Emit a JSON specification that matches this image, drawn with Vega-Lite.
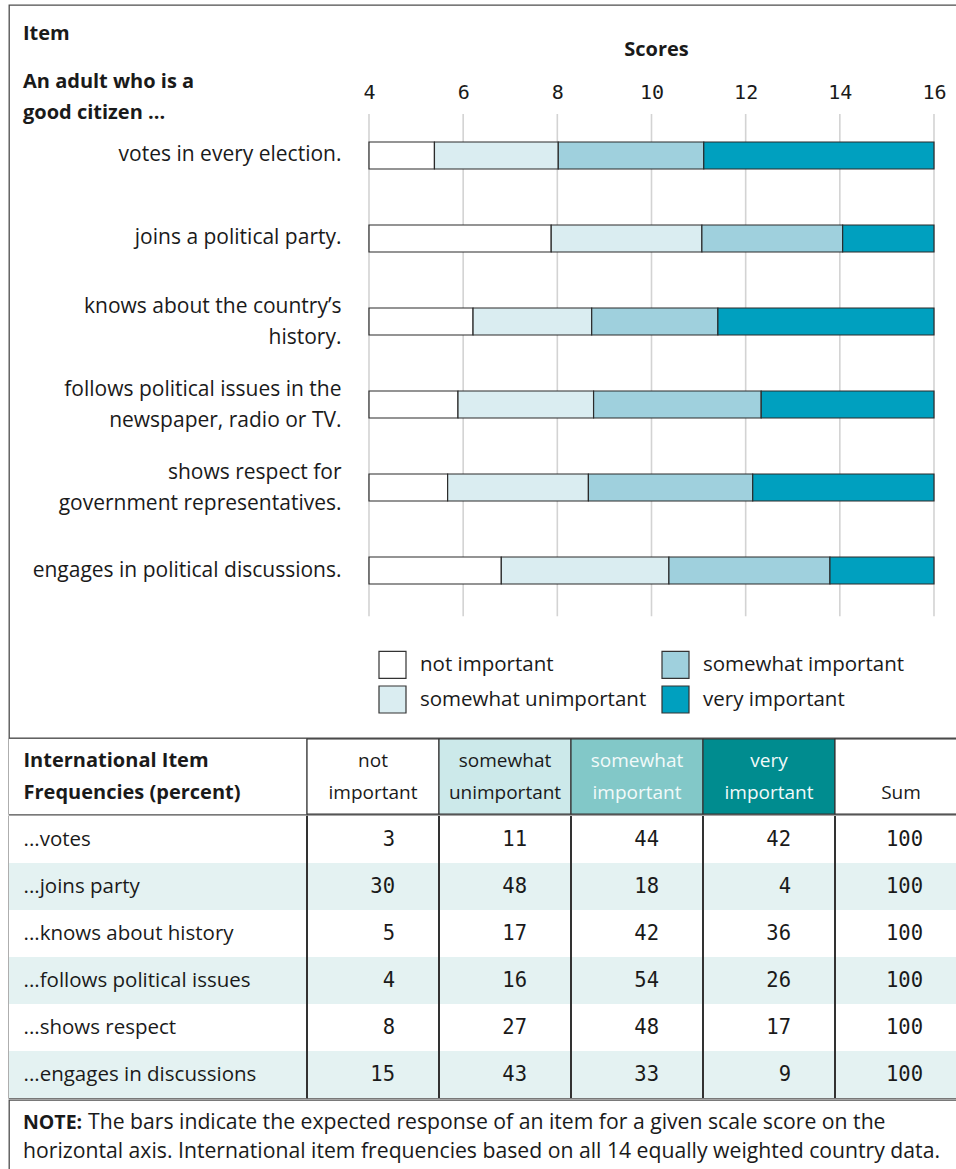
{
  "$schema": "https://vega.github.io/schema/vega-lite/v6.json",
  "padding": {"left": 8, "top": 4, "right": 0, "bottom": 0},
  "background": "white",
  "spacing": -4,
  "config": {
    "view": {"stroke": "#4d4d4d", "strokeWidth": 1.3},
    "font": "Open Sans",
    "concat": {"spacing": 0}
  },
  "resolve": {
    "scale": {"x": "independent", "y": "independent", "fill": "independent", "color": "independent"},
    "axis": {"x": "independent", "y": "independent"},
    "legend": {"fill": "independent", "color": "independent"}
  },
  "datasets": {
    "grid": [{"from": 4}, {"from": 6}, {"from": 8}, {"from": 10}, {"from": 12}, {"from": 14}, {"from": 16}],
    "bars": [
      {"item": "votes in every election.", "cat": "not important", "from": 4, "to": 5.39},
      {"item": "votes in every election.", "cat": "somewhat unimportant", "from": 5.39, "to": 8.02},
      {"item": "votes in every election.", "cat": "somewhat important", "from": 8.02, "to": 11.11},
      {"item": "votes in every election.", "cat": "very important", "from": 11.11, "to": 16},
      {"item": "joins a political party.", "cat": "not important", "from": 4, "to": 7.87},
      {"item": "joins a political party.", "cat": "somewhat unimportant", "from": 7.87, "to": 11.07},
      {"item": "joins a political party.", "cat": "somewhat important", "from": 11.07, "to": 14.06},
      {"item": "joins a political party.", "cat": "very important", "from": 14.06, "to": 16},
      {"item": "knows about the country’s|history.", "cat": "not important", "from": 4, "to": 6.21},
      {"item": "knows about the country’s|history.", "cat": "somewhat unimportant", "from": 6.21, "to": 8.73},
      {"item": "knows about the country’s|history.", "cat": "somewhat important", "from": 8.73, "to": 11.41},
      {"item": "knows about the country’s|history.", "cat": "very important", "from": 11.41, "to": 16},
      {"item": "follows political issues in the|newspaper, radio or TV.", "cat": "not important", "from": 4, "to": 5.89},
      {"item": "follows political issues in the|newspaper, radio or TV.", "cat": "somewhat unimportant", "from": 5.89, "to": 8.77},
      {"item": "follows political issues in the|newspaper, radio or TV.", "cat": "somewhat important", "from": 8.77, "to": 12.33},
      {"item": "follows political issues in the|newspaper, radio or TV.", "cat": "very important", "from": 12.33, "to": 16},
      {"item": "shows respect for|government representatives.", "cat": "not important", "from": 4, "to": 5.67},
      {"item": "shows respect for|government representatives.", "cat": "somewhat unimportant", "from": 5.67, "to": 8.66},
      {"item": "shows respect for|government representatives.", "cat": "somewhat important", "from": 8.66, "to": 12.15},
      {"item": "shows respect for|government representatives.", "cat": "very important", "from": 12.15, "to": 16},
      {"item": "engages in political discussions.", "cat": "not important", "from": 4, "to": 6.81},
      {"item": "engages in political discussions.", "cat": "somewhat unimportant", "from": 6.81, "to": 10.37},
      {"item": "engages in political discussions.", "cat": "somewhat important", "from": 10.37, "to": 13.79},
      {"item": "engages in political discussions.", "cat": "very important", "from": 13.79, "to": 16}
    ],
    "header": [
      {"col": "not_important", "t": "not|important"},
      {"col": "somewhat_unimportant", "t": "somewhat|unimportant"},
      {"col": "somewhat_important", "t": "somewhat|important"},
      {"col": "very_important", "t": "very|important"},
      {"col": "sum", "t": " |Sum"}
    ],
    "table": [
      {"row": 1, "item": "...votes", "not_important": 3, "somewhat_unimportant": 11, "somewhat_important": 44, "very_important": 42, "sum": 100},
      {"row": 2, "item": "...joins party", "not_important": 30, "somewhat_unimportant": 48, "somewhat_important": 18, "very_important": 4, "sum": 100},
      {"row": 3, "item": "...knows about history", "not_important": 5, "somewhat_unimportant": 17, "somewhat_important": 42, "very_important": 36, "sum": 100},
      {"row": 4, "item": "...follows political issues", "not_important": 4, "somewhat_unimportant": 16, "somewhat_important": 54, "very_important": 26, "sum": 100},
      {"row": 5, "item": "...shows respect", "not_important": 8, "somewhat_unimportant": 27, "somewhat_important": 48, "very_important": 17, "sum": 100},
      {"row": 6, "item": "...engages in discussions", "not_important": 15, "somewhat_unimportant": 43, "somewhat_important": 33, "very_important": 9, "sum": 100}
    ]
  },
  "vconcat": [
    {
      "width": 950,
      "height": 733,
      "title": {
        "text": "Item",
        "subtitle": ["An adult who is a", "good citizen ..."],
        "anchor": "start",
        "frame": "group",
        "offset": -118,
        "dx": 14,
        "font": "Open Sans",
        "fontSize": 20,
        "fontWeight": "bold",
        "color": "#1a1a1a",
        "subtitleFont": "Open Sans",
        "subtitleFontSize": 20,
        "subtitleFontWeight": "bold",
        "subtitleColor": "#1a1a1a",
        "subtitleLineHeight": 31,
        "subtitlePadding": 28
      },
      "layer": [
        {
          "data": {"name": "grid"},
          "mark": {"type": "rule", "color": "#d3d3d3", "strokeWidth": 1.6},
          "encoding": {
            "x": {"field": "from", "type": "quantitative", "scale": {"domain": [-3.646, 16.531], "nice": false, "zero": false}},
            "y": {"datum": "votes in every election.", "type": "nominal", "bandPosition": -1.04},
            "y2": {"datum": "engages in political discussions.", "bandPosition": 2.19}
          }
        },
        {
          "data": {"name": "bars"},
          "mark": {"type": "bar", "stroke": "#2b2b2b", "strokeWidth": 1.2},
          "encoding": {
            "x": {
              "field": "from", "type": "quantitative",
              "scale": {"domain": [-3.646, 16.531], "nice": false, "zero": false},
              "axis": {
                "orient": "top", "offset": -109, "values": [4, 6, 8, 10, 12, 14, 16],
                "domain": false, "ticks": false, "grid": false,
                "labelFont": "DejaVu Sans Mono", "labelFontSize": 20, "labelColor": "#1a1a1a",
                "labelPadding": 12, "labelFlush": false, "labelOverlap": false,
                "title": "Scores", "titleFont": "Open Sans", "titleFontSize": 20, "titleFontWeight": "bold",
                "titleColor": "#1a1a1a", "titleX": 647, "titleY": -59, "titleAlign": "center", "titleBaseline": "alphabetic"
              }
            },
            "x2": {"field": "to"},
            "y": {
              "field": "item", "type": "nominal",
              "scale": {
                "domain": ["votes in every election.", "joins a political party.", "knows about the country’s|history.", "follows political issues in the|newspaper, radio or TV.", "shows respect for|government representatives.", "engages in political discussions."],
                "range": [137, 579],
                "paddingInner": 0.6747, "paddingOuter": 0
              },
              "axis": {
                "orient": "left", "offset": -360, "domain": false, "ticks": false,
                "labelPadding": 28, "labelAlign": "right",
                "labelBaseline": {"condition": {"test": "indexof(datum.label, '|') >= 0", "value": "line-bottom"}, "value": "middle"},
                "labelExpr": "split(datum.label, '|')", "labelLineHeight": 31,
                "labelFont": "Open Sans", "labelFontSize": 21, "labelColor": "#1a1a1a", "labelLimit": 500,
                "title": null
              }
            },
            "fill": {
              "field": "cat", "type": "nominal",
              "scale": {
                "domain": ["not important", "somewhat unimportant", "somewhat important", "very important"],
                "range": ["#ffffff", "#daedf1", "#9fd0dd", "#00a0bf"]
              },
              "legend": {
                "orient": "none", "legendX": 369, "legendY": 645, "columns": 2, "title": null,
                "symbolType": "square", "symbolSize": 729, "symbolStrokeColor": "#333333", "symbolStrokeWidth": 1.2,
                "symbolOpacity": 1, "labelFont": "Open Sans", "labelFontSize": 20.5, "labelColor": "#1a1a1a",
                "labelOffset": 13, "columnPadding": 12, "rowPadding": 2, "labelLimit": 400
              }
            }
          }
        }
      ]
    },
    {
      "bounds": "flush",
      "resolve": {"scale": {"x": "independent", "y": "independent", "fill": "independent"}, "axis": {"x": "independent", "y": "independent"}},
      "hconcat": [
        {
          "width": 298,
          "height": 75,
          "data": {"values": [{"h": "International Item|Frequencies (percent)"}]},
          "mark": {"type": "rect", "fill": "white"},
          "encoding": {
            "x": {"datum": "c", "type": "nominal", "scale": {"paddingInner": 0, "paddingOuter": 0}, "axis": null},
            "y": {
              "field": "h", "type": "nominal", "scale": {"paddingInner": 0, "paddingOuter": 0},
              "axis": {
                "orient": "right", "offset": -298, "domain": false, "ticks": false,
                "labelPadding": 14, "labelAlign": "left", "labelBaseline": "line-bottom",
                "labelExpr": "split(datum.label, '|')", "labelLineHeight": 32,
                "labelFont": "Open Sans", "labelFontSize": 20, "labelFontWeight": "bold",
                "labelColor": "#1a1a1a", "labelLimit": 400, "title": null
              }
            }
          }
        },
        {
          "width": 660,
          "height": 75,
          "data": {"name": "header"},
          "encoding": {
            "x": {"field": "col", "type": "nominal", "scale": {"domain": ["not_important", "somewhat_unimportant", "somewhat_important", "very_important", "sum"], "paddingInner": 0, "paddingOuter": 0}, "axis": null},
            "y": {"datum": "h", "type": "nominal", "scale": {"paddingInner": 0, "paddingOuter": 0}, "axis": null}
          },
          "layer": [
            {
              "mark": {"type": "rect", "stroke": "#333333", "strokeWidth": 1.2},
              "encoding": {
                "fill": {
                  "field": "col", "type": "nominal",
                  "scale": {"domain": ["not_important", "somewhat_unimportant", "somewhat_important", "very_important", "sum"], "range": ["#ffffff", "#cce9ea", "#82c8c8", "#008c8f", "#ffffff"]},
                  "legend": null
                }
              }
            },
            {
              "mark": {"type": "text", "font": "Open Sans", "fontSize": 19, "lineBreak": "|", "lineHeight": 32, "baseline": "line-bottom", "align": "center"},
              "encoding": {
                "text": {"field": "t"},
                "color": {"condition": {"test": "datum.col === 'somewhat_important' || datum.col === 'very_important'", "value": "#f2fafa"}, "value": "#1a1a1a"}
              }
            }
          ]
        }
      ]
    },
    {
      "bounds": "flush",
      "resolve": {"scale": {"x": "independent", "y": "independent", "fill": "independent"}, "axis": {"x": "independent", "y": "independent"}},
      "hconcat": [
        {
          "width": 298,
          "height": 282,
          "data": {"name": "table"},
          "mark": {"type": "rect"},
          "encoding": {
            "x": {"datum": "c", "type": "nominal", "scale": {"paddingInner": 0, "paddingOuter": 0}, "axis": null},
            "y": {
              "field": "item", "type": "nominal", "sort": null, "scale": {"paddingInner": 0, "paddingOuter": 0},
              "axis": {
                "orient": "right", "offset": -298, "domain": false, "ticks": false,
                "labelPadding": 14, "labelAlign": "left", "labelBaseline": "middle",
                "labelFont": "Open Sans", "labelFontSize": 20.5, "labelColor": "#1a1a1a", "labelLimit": 400, "title": null
              }
            },
            "fill": {"condition": {"test": "datum.row % 2 === 0", "value": "#e4f2f2"}, "value": "#ffffff"}
          }
        },
        {
          "width": 660,
          "height": 282,
          "data": {"name": "table"},
          "transform": [{"fold": ["not_important", "somewhat_unimportant", "somewhat_important", "very_important", "sum"], "as": ["col", "val"]}],
          "encoding": {
            "y": {"field": "item", "type": "nominal", "sort": null, "scale": {"paddingInner": 0, "paddingOuter": 0}, "axis": null}
          },
          "layer": [
            {
              "mark": {"type": "rect"},
              "encoding": {
                "x": {"field": "col", "type": "nominal", "scale": {"domain": ["not_important", "somewhat_unimportant", "somewhat_important", "very_important", "sum"], "paddingInner": 0, "paddingOuter": 0}, "axis": null},
                "fill": {"condition": {"test": "datum.row % 2 === 0", "value": "#e4f2f2"}, "value": "#ffffff"}
              }
            },
            {
              "mark": {"type": "rule", "color": "#333333", "strokeWidth": 1.2},
              "encoding": {
                "x": {"field": "col", "type": "nominal", "bandPosition": 0},
                "y": null
              }
            },
            {
              "mark": {"type": "text", "font": "DejaVu Sans Mono", "fontSize": 20.5, "align": "right", "baseline": "middle", "dx": 22, "color": "#1a1a1a"},
              "encoding": {
                "x": {"field": "col", "type": "nominal", "bandPosition": 0.5},
                "text": {"field": "val", "type": "quantitative"}
              }
            }
          ]
        }
      ]
    },
    {
      "width": 963,
      "height": 80,
      "encoding": {
        "x": {"datum": 0, "type": "quantitative", "scale": {"domain": [0, 1]}, "axis": null},
        "y": {"field": "line", "type": "nominal", "scale": {"type": "point", "domain": ["l1", "l2"], "padding": 0.879, "align": 0.57}, "axis": null},
        "text": {"field": "t"}
      },
      "layer": [
        {
          "data": {"values": [{"line": "l1", "t": "NOTE:"}]},
          "mark": {"type": "text", "align": "left", "baseline": "alphabetic", "dx": 14, "font": "Open Sans", "fontSize": 19.5, "fontWeight": "bold", "color": "#1a1a1a"}
        },
        {
          "data": {"values": [{"line": "l1", "t": "The bars indicate the expected response of an item for a given scale score on the"}]},
          "mark": {"type": "text", "align": "left", "baseline": "alphabetic", "dx": 79, "font": "Open Sans", "fontSize": 21.2, "color": "#1a1a1a"}
        },
        {
          "data": {"values": [{"line": "l2", "t": "horizontal axis. International item frequencies based on all 14 equally weighted country data."}]},
          "mark": {"type": "text", "align": "left", "baseline": "alphabetic", "dx": 14, "font": "Open Sans", "fontSize": 21.2, "color": "#1a1a1a"}
        }
      ]
    }
  ]
}
